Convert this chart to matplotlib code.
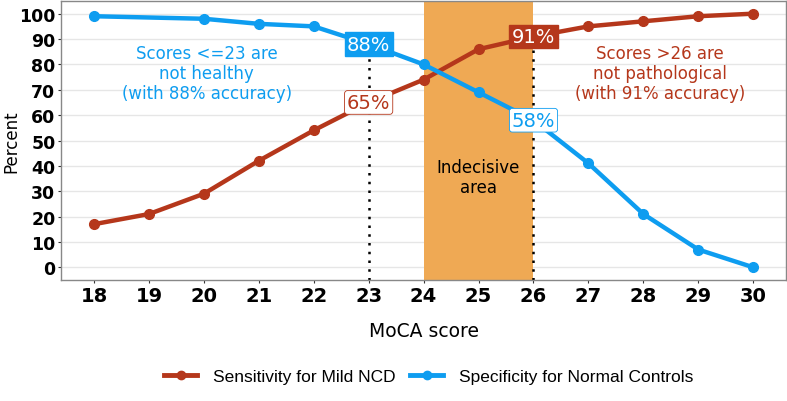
import matplotlib
matplotlib.use("Agg")
import matplotlib.pyplot as plt
from matplotlib.lines import Line2D

# MoCA cut-off data
sens_scores = [18, 19, 20, 21, 22, 23, 24, 25, 26, 27, 28, 29, 30]
sensitivity = [17, 21, 29, 42, 54, 65, 74, 86, 91, 95, 97, 99, 100]
spec_scores = [18, 20, 21, 22, 23, 24, 25, 26, 27, 28, 29, 30]
specificity = [99, 98, 96, 95, 88, 80, 69, 58, 41, 21, 7, 0]

x_ticks = list(range(18, 31))
y_ticks = list(range(0, 101, 10))
series_labels = ["Sensitivity for Mild NCD", "Specificity for Normal Controls"]

RED = "#B5371B"
BLUE = "#0E9DF0"
ORANGE = "#EFA954"

fig = plt.figure(figsize=(7.87, 4.02), dpi=100)
ax = fig.add_axes([0.0775, 0.301, 0.9215, 0.694])

ax.axvspan(24, 26, color=ORANGE, zorder=1, lw=0)
ax.plot([23, 23], [-5, 88], color="black", ls=(0, (1, 2.5)), lw=1.8, zorder=2)
ax.plot([26, 26], [-5, 91], color="black", ls=(0, (1, 2.5)), lw=1.8, zorder=2)

ax.plot(sens_scores, sensitivity, color=RED, lw=3.2, marker="o", ms=7, zorder=3)
ax.plot(spec_scores, specificity, color=BLUE, lw=3.2, marker="o", ms=7, zorder=3)

# value labels at the cut-offs
lab = dict(fontsize=14, ha="center", va="center", zorder=5)
ax.text(23, specificity[spec_scores.index(23)], "88%", color="white",
        bbox=dict(boxstyle="square,pad=0.12", fc=BLUE, ec=BLUE), **lab)
ax.text(23, sensitivity[sens_scores.index(23)], "65%", color=RED,
        bbox=dict(boxstyle="round,pad=0.12,rounding_size=0.15", fc="white", ec=RED, lw=0.6), **lab)
ax.text(26, sensitivity[sens_scores.index(26)], "91%", color="white",
        bbox=dict(boxstyle="square,pad=0.12", fc=RED, ec=RED), **lab)
ax.text(26, specificity[spec_scores.index(26)], "58%", color=BLUE,
        bbox=dict(boxstyle="round,pad=0.12,rounding_size=0.15", fc="white", ec=BLUE, lw=0.6), **lab)

ax.text(20.05, 76.5, "Scores <=23 are\nnot healthy\n(with 88% accuracy)", color=BLUE,
        fontsize=12, ha="center", va="center", linespacing=1.15)
ax.text(28.3, 76.5, "Scores >26 are\nnot pathological\n(with 91% accuracy)", color=RED,
        fontsize=12, ha="center", va="center", linespacing=1.15)
ax.text(25, 35.5, "Indecisive\narea", color="black", fontsize=12,
        ha="center", va="center", linespacing=1.15)

ax.set_xlim(17.4, 30.6)
ax.set_ylim(-5, 105)
ax.set_xticks(x_ticks)
ax.set_yticks(y_ticks)
ax.set_xticklabels([str(v) for v in x_ticks], fontsize=14, fontweight="bold")
ax.set_yticklabels([str(v) for v in y_ticks], fontsize=12.5, fontweight="bold")
ax.tick_params(axis="both", length=2.5, color="#333333", pad=1.5)
ax.grid(axis="y", color="#e6e6e6", lw=1)
ax.set_axisbelow(True)
for s in ax.spines.values():
    s.set_color("#888888")
    s.set_linewidth(1)

ax.set_xlabel("MoCA score", fontsize=13.5, labelpad=12)
ax.set_ylabel("Percent", fontsize=12)
ax.yaxis.set_label_coords(-0.056, 0.5)

handles = [Line2D([], [], color=RED, lw=3.5, marker="o", ms=6),
           Line2D([], [], color=BLUE, lw=3.5, marker="o", ms=6)]
fig.legend(handles, series_labels, loc="center", bbox_to_anchor=(0.545, 0.06),
           ncol=2, frameon=False, handlelength=1.9, handletextpad=0.9,
           columnspacing=0.85, prop={"family": "Liberation Sans", "size": 12.5})

fig.savefig("out.png", dpi=100)
